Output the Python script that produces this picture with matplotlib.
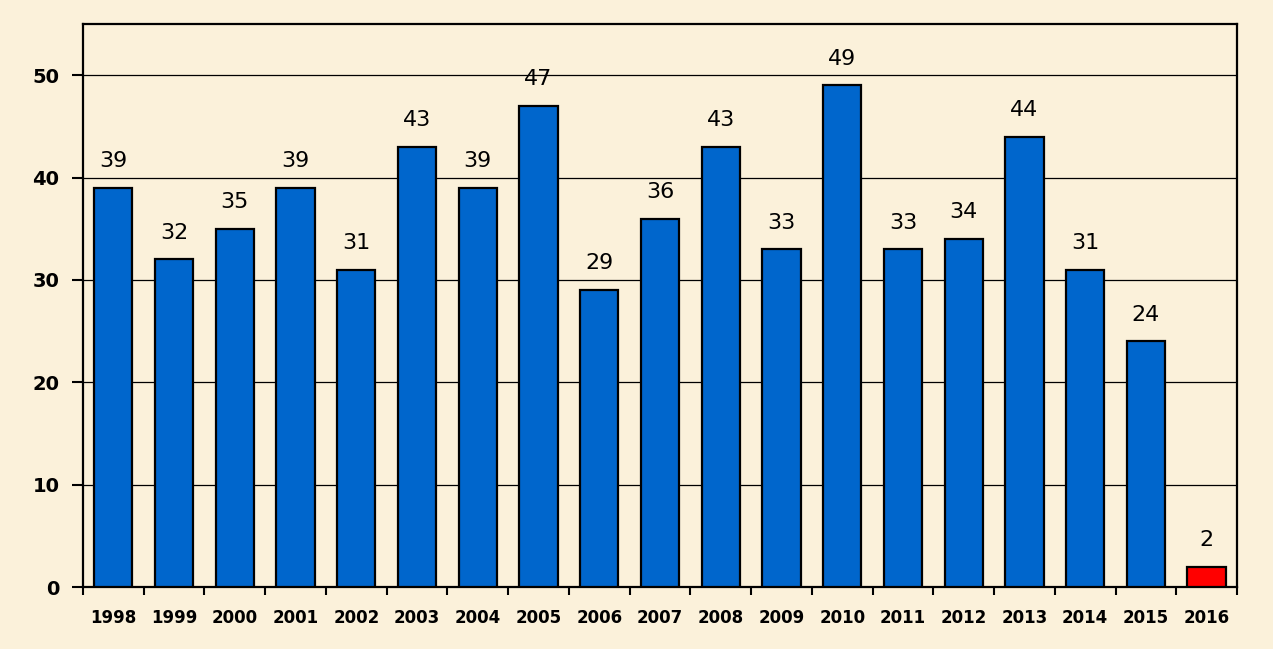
import matplotlib
matplotlib.use("Agg")
import matplotlib.pyplot as plt
import numpy as np

years = ["1998", "1999", "2000", "2001", "2002", "2003", "2004", "2005", "2006", "2007",
         "2008", "2009", "2010", "2011", "2012", "2013", "2014", "2015", "2016"]
counts = [39, 32, 35, 39, 31, 43, 39, 47, 29, 36, 43, 33, 49, 33, 34, 44, 31, 24, 2]

bg = "#fbf1da"
fig = plt.figure(figsize=(12.73, 6.49), dpi=100, facecolor=bg)
ax = fig.add_axes([0.0652, 0.0955, 0.9065, 0.8675])
ax.set_facecolor(bg)

x = np.arange(len(years))
colors = ["#0066cc"] * (len(years) - 1) + ["#ff0000"]
bars = ax.bar(x, counts, width=0.63, color=colors, edgecolor="black", linewidth=1.6, zorder=3)

# value labels above bars
for xi, v in zip(x, counts):
    ax.annotate(str(v), (xi, v), xytext=(0, 12), textcoords="offset points",
                ha="center", va="bottom", fontsize=16, color="black")

ax.set_xlim(-0.5, len(years) - 0.5)
ax.set_ylim(0, 55)
ax.set_yticks(range(0, 51, 10))
ax.yaxis.grid(True, color="black", linewidth=0.9, zorder=0)
ax.set_axisbelow(True)

ax.set_xticks(x)
ax.set_xticklabels(years, fontsize=12, fontweight="bold")
ax.set_xticks(np.arange(-0.5, len(years), 1), minor=True)
ax.tick_params(axis="x", which="major", length=0, pad=16)
ax.tick_params(axis="x", which="minor", length=6, width=1.5, direction="out")
ax.tick_params(axis="y", length=8, width=1.5, direction="out", pad=9)
for lbl in ax.get_yticklabels():
    lbl.set_fontsize(14)
    lbl.set_fontweight("bold")

for s in ax.spines.values():
    s.set_linewidth(1.6)
    s.set_color("black")

fig.savefig("out.png", dpi=100, facecolor=bg)
